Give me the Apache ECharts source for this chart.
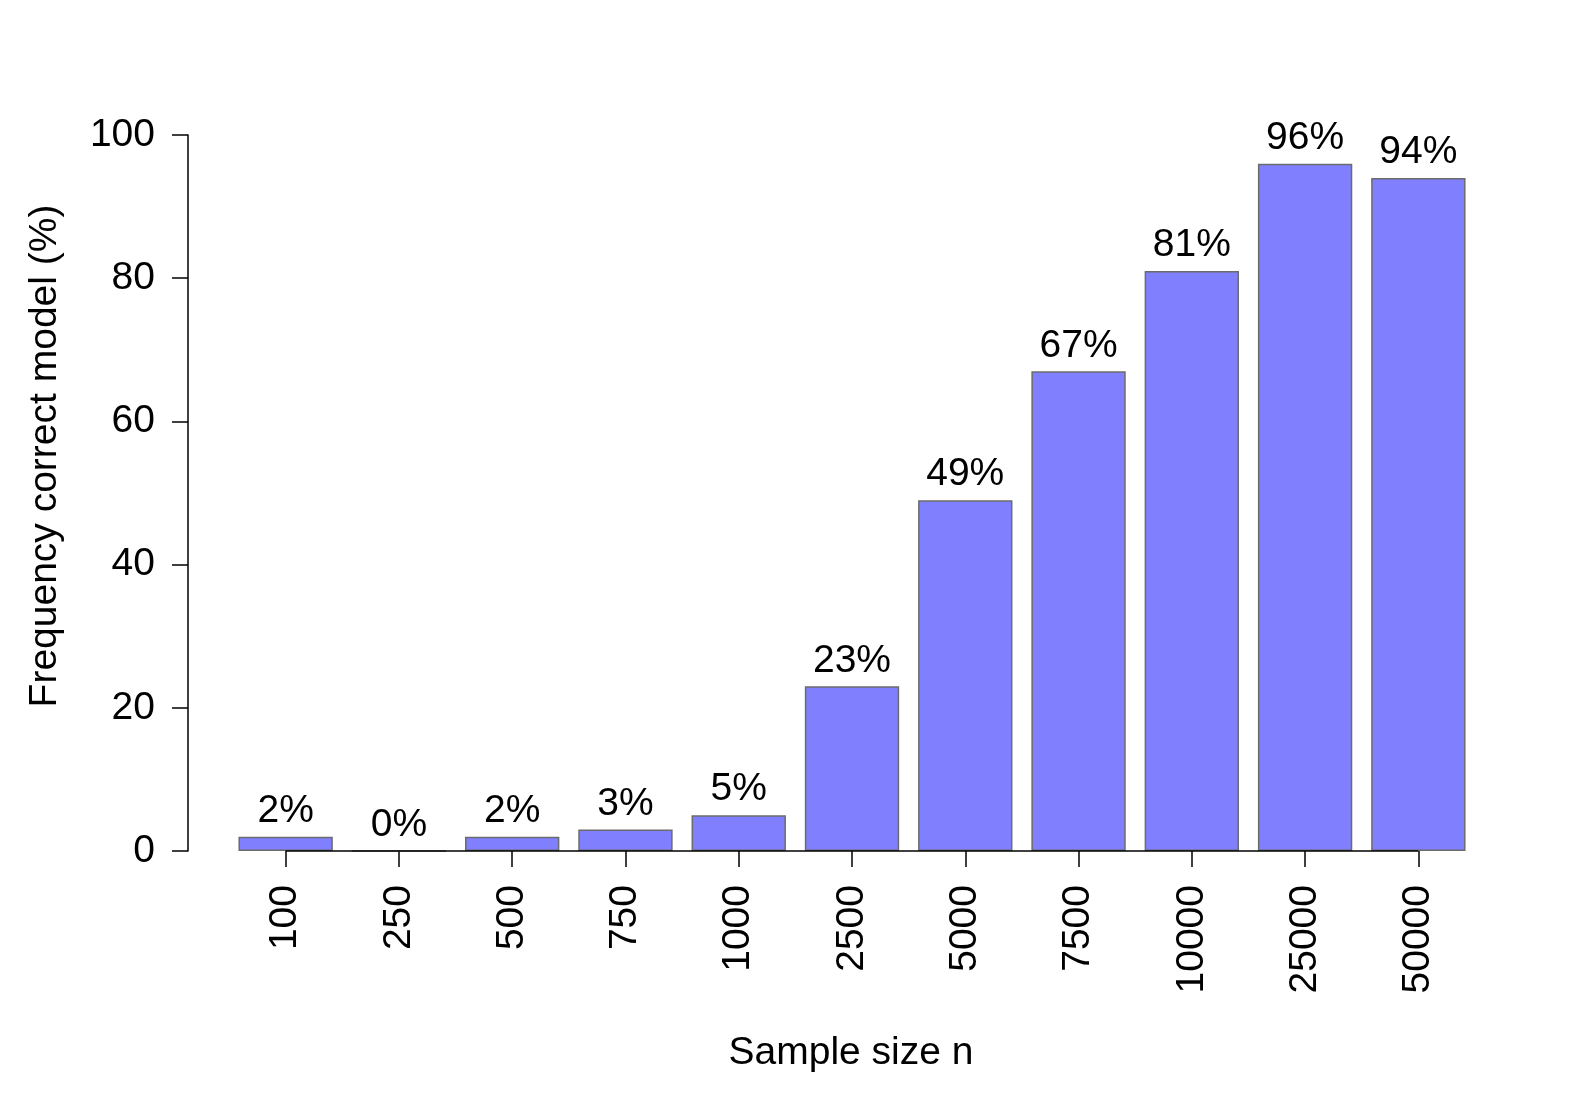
<!DOCTYPE html>
<html>
<head>
<meta charset="utf-8">
<script src="https://cdn.jsdelivr.net/npm/echarts@6/dist/echarts.min.js"></script>
<style>
  html, body { margin: 0; padding: 0; background: #fff; }
  #chart { width: 1578px; height: 1104px; }
</style>
</head>
<body>
<div id="chart"></div>
<script>
// sample sizes on the x axis
const sampleSizes = ['100', '250', '500', '750', '1000', '2500', '5000', '7500', '10000', '25000', '50000'];
// percent of runs that picked the correct model
const correctPct = [2, 0, 2, 3, 5, 23, 49, 67, 81, 96, 94];
const yTicks = [0, 20, 40, 60, 80, 100];

const FONT = '"Liberation Sans", Arial, Helvetica, sans-serif';
const FS = 39;

const chart = echarts.init(document.getElementById('chart'));

chart.setOption({
  animation: false,
  backgroundColor: '#fff',
  textStyle: { fontFamily: FONT },
  grid: { left: 229, right: 103, top: 135, bottom: 253, containLabel: false },
  xAxis: {
    type: 'category',
    data: sampleSizes,
    axisLine: { show: false },
    axisTick: { show: true, alignWithLabel: true, length: 16, lineStyle: { color: '#000', width: 1.5 } },
    axisLabel: { rotate: 90, margin: 34, fontSize: FS, color: '#000', fontFamily: FONT },
    splitLine: { show: false }
  },
  yAxis: {
    type: 'value',
    min: yTicks[0],
    max: yTicks[yTicks.length - 1],
    interval: 20,
    offset: 41,
    axisLine: { show: true, lineStyle: { color: '#000', width: 1.5 } },
    axisTick: { show: true, length: 16, lineStyle: { color: '#000', width: 1.5 } },
    axisLabel: { margin: 33, fontSize: FS, color: '#000', fontFamily: FONT },
    splitLine: { show: false }
  },
  graphic: [
    {
      type: 'text',
      x: 851, y: 1053,
      style: { text: 'Sample size n', font: FS + 'px ' + FONT, fill: '#000', align: 'center', verticalAlign: 'middle' }
    },
    {
      type: 'text',
      x: 45, y: 456,
      rotation: Math.PI / 2,
      style: { text: 'Frequency correct model (%)', font: FS + 'px ' + FONT, fill: '#000', align: 'center', verticalAlign: 'middle' }
    }
  ],
  series: [
    {
      type: 'bar',
      data: correctPct,
      barCategoryGap: '16.7%',
      itemStyle: { color: '#8080FF', borderColor: '#6b6b6b', borderWidth: 1.5 },
      label: {
        show: true,
        position: 'top',
        distance: 6,
        formatter: '{c}%',
        fontSize: FS,
        color: '#000',
        fontFamily: FONT
      },
      markLine: {
        silent: true,
        symbol: 'none',
        label: { show: false },
        lineStyle: { color: '#000', width: 1.5, type: 'solid' },
        data: [[
          { coord: [sampleSizes[0], 0] },
          { coord: [sampleSizes[sampleSizes.length - 1], 0] }
        ]]
      }
    }
  ]
});
</script>
</body>
</html>
